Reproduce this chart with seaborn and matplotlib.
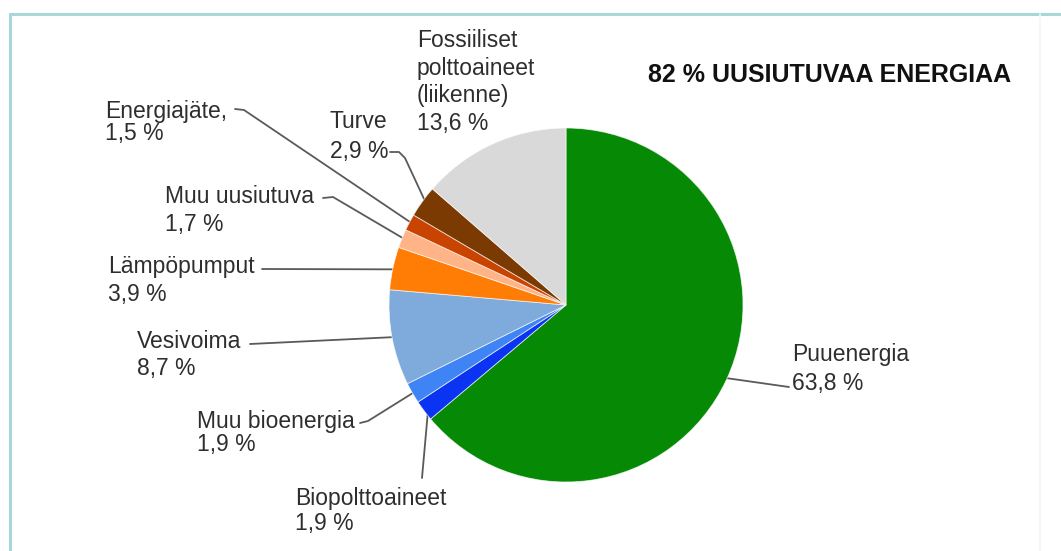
import numpy as np
import matplotlib
matplotlib.use("Agg")
import matplotlib.pyplot as plt
import seaborn as sns
from matplotlib.lines import Line2D

# ---- data ----
labels = ["Puuenergia", "Biopolttoaineet", "Muu bioenergia", "Vesivoima",
          "Lämpöpumput", "Muu uusiutuva", "Energiajäte,", "Turve",
          "Fossiiliset\npolttoaineet\n(liikenne)"]
shares = [63.8, 1.9, 1.9, 8.7, 3.9, 1.7, 1.5, 2.9, 13.6]
colors = ["#068a06", "#0b34f2", "#3e84f4", "#7eabdc", "#ff7c05",
          "#ffb487", "#c94400", "#7b3a02", "#d9d9d9"]
title = "82 % UUSIUTUVAA ENERGIAA"

# ---- style ----
sns.set_theme(style="white")
plt.rcParams["font.family"] = ["Liberation Sans", "DejaVu Sans"]
palette = sns.color_palette(colors)

W, H = 1061, 551
fig = plt.figure(figsize=(W / 100, H / 100), dpi=100)
fig.patch.set_facecolor("white")
ax = fig.add_axes([0, 0, 1, 1])


def P(x, y):
    return x, H - y


cx, cy = 566, 305
R = 177
ax.pie(shares, colors=palette, startangle=90, counterclock=False,
       center=P(cx, cy), radius=R,
       wedgeprops=dict(edgecolor=(1, 1, 1, 0.7), linewidth=0.6))
ax.set_xlim(0, W)
ax.set_ylim(0, H)
ax.set_aspect("equal")
ax.axis("off")

# wedge mid angles from data
total = sum(shares)
cum = np.concatenate([[0], np.cumsum(shares)[:-1]])
mid = np.deg2rad(90 - 360 * (cum + np.array(shares) / 2) / total)


def wedge_pt(i, f=0.97):
    return (cx + f * R * np.cos(mid[i]), cy - f * R * np.sin(mid[i]))


# layout: text x, tops of each text line (name lines..., value line), leader path
layout = {
    0: dict(x=792, tops=[343, 372], path=[(789, 387)]),
    1: dict(x=295, tops=[487, 512], path=[(422, 478)]),
    2: dict(x=197, tops=[410, 433], path=[(360, 423), (368, 421)]),
    3: dict(x=137, tops=[330, 357], path=[(250, 344)]),
    4: dict(x=108, tops=[255, 283], path=[(262, 269)]),
    5: dict(x=165, tops=[185, 213], path=[(323, 198), (333, 197)]),
    6: dict(x=105, tops=[100, 122], path=[(235, 109), (244, 110)]),
    7: dict(x=330, tops=[110, 140], path=[(390, 152), (399, 152), (405, 158)]),
    8: dict(x=417, tops=[29, 57, 84, 112], path=None),
}

txt_color = "#2e2e2e"
fs = 16.5
for i, (lab, val) in enumerate(zip(labels, shares)):
    lay = layout[i]
    lines = lab.split("\n") + [f"{val:.1f}".replace(".", ",") + " %"]
    for line, top in zip(lines, lay["tops"]):
        x, y = P(lay["x"], top)
        ax.text(x, y, line, ha="left", va="top", fontsize=fs, color=txt_color)
    if lay["path"]:
        pts = list(lay["path"]) + [wedge_pt(i)]
        xs = [p[0] for p in pts]
        ys = [H - p[1] for p in pts]
        ax.plot(xs, ys, color="#5a5a5a", lw=1.3, zorder=0.5,
                solid_capstyle="round")

ax.text(*P(648, 82), title, ha="left", va="baseline", fontsize=18,
        fontweight="bold", color="#111111")

# frame
fig.add_artist(Line2D([10 / W, 1], [1 - 14 / H, 1 - 14 / H],
                      transform=fig.transFigure, color="#a9d6da", lw=2.2))
fig.add_artist(Line2D([10 / W, 10 / W], [0, 1 - 14 / H],
                      transform=fig.transFigure, color="#a9d6da", lw=2.2))
fig.add_artist(Line2D([1040 / W, 1040 / W], [0, 1 - 14 / H],
                      transform=fig.transFigure, color="#f1f6f8", lw=1.2))

fig.savefig("out.png", dpi=100)
